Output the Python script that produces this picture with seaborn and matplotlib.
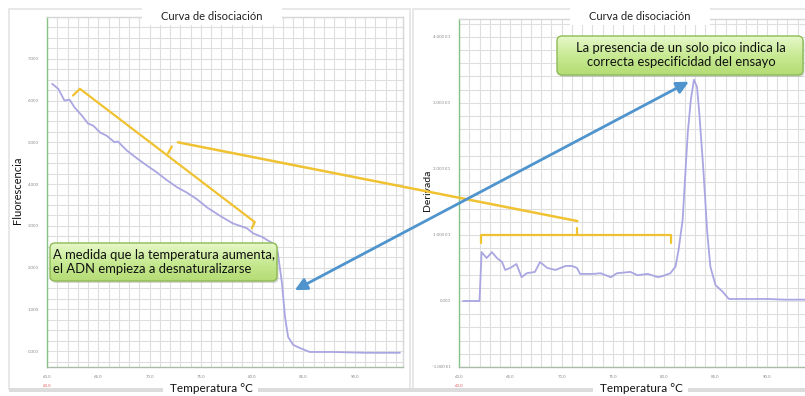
import numpy as np
import pandas as pd
import matplotlib
matplotlib.use("Agg")
import matplotlib.pyplot as plt
import seaborn as sns
from matplotlib.patches import FancyBboxPatch, Rectangle, ConnectionPatch
from matplotlib.ticker import MultipleLocator
from matplotlib.lines import Line2D

# ---- melt curve: fluorescence vs temperature ----
melt_temp = [60.5, 61.1, 61.7, 62.2, 62.7, 63.4, 64.0, 64.5, 65.2, 65.8, 66.6, 66.9,
             67.8, 68.8, 69.7, 70.7, 71.7, 72.7, 73.6, 74.6, 75.6, 76.8, 78.1, 79.5,
             80.1, 81.0, 82.0, 82.5, 82.9, 83.2, 83.5, 84.0, 84.6, 85.6, 87.8, 91.2, 94.4]
melt_fluor = [6.40, 6.28, 6.00, 6.02, 5.83, 5.64, 5.45, 5.40, 5.23, 5.16, 5.00, 5.02,
              4.80, 4.61, 4.45, 4.28, 4.09, 3.92, 3.80, 3.64, 3.44, 3.25, 3.06, 2.94,
              2.82, 2.73, 2.58, 2.35, 1.63, 0.82, 0.34, 0.15, 0.08, -0.02, -0.02, -0.04, -0.04]

# ---- derivative curve (E1 units) ----
deriv_temp = [60.4, 62.0, 62.2, 62.7, 63.2, 63.7, 64.2, 64.5, 65.0, 65.6, 66.1, 66.6,
              67.4, 67.9, 68.6, 69.4, 70.4, 71.0, 71.5, 71.8, 73.1, 73.8, 74.8, 75.4,
              76.7, 77.4, 78.4, 79.4, 79.9, 80.6, 81.1, 81.4, 81.8, 82.1, 82.3, 82.6,
              82.9, 83.2, 83.4, 83.8, 84.0, 84.2, 84.5, 85.0, 85.7, 86.3, 88.4, 90.1,
              91.7, 93.8]
deriv_value = [0.0, 0.0, 0.74, 0.65, 0.74, 0.65, 0.59, 0.47, 0.50, 0.56, 0.36, 0.42,
               0.44, 0.59, 0.50, 0.47, 0.53, 0.53, 0.50, 0.41, 0.41, 0.42, 0.36, 0.42,
               0.44, 0.39, 0.41, 0.36, 0.38, 0.42, 0.52, 0.77, 1.23, 2.03, 2.55, 3.05,
               3.35, 3.24, 2.89, 2.03, 1.53, 1.03, 0.52, 0.24, 0.14, 0.03, 0.03, 0.03,
               0.02, 0.02]

# ---- axis ticks ----
x_ticks = [60.0, 65.0, 70.0, 75.0, 80.0, 85.0, 90.0]
x_tick_labels = ["60.0", "65.0", "70.0", "75.0", "80.0", "85.0", "90.0"]
fluor_ticks = [0, 1, 2, 3, 4, 5, 6, 7]
fluor_tick_labels = ["0.000", "1.000", "2.000", "3.000", "4.000", "5.000", "6.000", "7.000"]
deriv_ticks = [-1, 0, 1, 2, 3, 4]
deriv_tick_labels = ["-1.000 E1", "0.000", "1.000 E1", "2.000 E1", "3.000 E1", "4.000 E1"]

title_text = "Curva de disociación"
xlabel_text = "Temperatura °C"
left_note = "A medida que la temperatura aumenta,\nel ADN empieza a desnaturalizarse"
right_note = "La presencia de un solo pico indica la\ncorrecta especificidad del ensayo"

sns.set_theme(style="white")
plt.rcParams["font.family"] = ["Lato", "DejaVu Sans"]

W, H = 805, 396
fig = plt.figure(figsize=(W / 100, H / 100), dpi=100)
fig.patch.set_facecolor("white")


def rect(x0, y0, x1, y1):
    return [x0 / W, 1 - y1 / H, (x1 - x0) / W, (y1 - y0) / H]


# pixel-space overlay for frames, labels and callouts
ov = fig.add_axes([0, 0, 1, 1], zorder=5)
ov.set_xlim(0, W)
ov.set_ylim(H, 0)
ov.axis("off")
ov.patch.set_alpha(0)

# background panel frames
bg = fig.add_axes([0, 0, 1, 1], zorder=-1)
bg.set_xlim(0, W)
bg.set_ylim(H, 0)
bg.axis("off")
for (x0, x1) in [(9, 410), (413, 812)]:
    bg.add_patch(Rectangle((x0, 9), x1 - x0, 380, facecolor="white",
                           edgecolor="#e8e8e8", lw=1.4))
bg.add_patch(Rectangle((9, 388), 803, 4, facecolor="#dcdcdc", edgecolor="none"))

line_color = "#aaa6e2"
grid_color = "#dedede"

ax1 = fig.add_axes(rect(47, 17, 403, 367), zorder=1)
ax2 = fig.add_axes(rect(459, 19, 815, 367), zorder=1)

melt_df = pd.DataFrame({"temp": melt_temp, "fluor": melt_fluor})
deriv_df = pd.DataFrame({"temp": deriv_temp, "deriv": deriv_value})
sns.lineplot(data=melt_df, x="temp", y="fluor", ax=ax1, color=line_color, lw=1.3,
             sort=False, estimator=None)
sns.lineplot(data=deriv_df, x="temp", y="deriv", ax=ax2, color=line_color, lw=1.3,
             sort=False, estimator=None)

for ax, yticks, ylabels, ylim, yminor in [
        (ax1, fluor_ticks, fluor_tick_labels, (-0.38, 8.0), 0.25),
        (ax2, deriv_ticks, deriv_tick_labels, (-1.0, 4.27), 0.2)]:
    ax.set_xlim(60, 94.7)
    ax.set_ylim(*ylim)
    ax.set_xticks(x_ticks)
    ax.set_xticklabels(x_tick_labels)
    ax.set_yticks(yticks)
    ax.set_yticklabels(ylabels)
    ax.xaxis.set_minor_locator(MultipleLocator(1))
    ax.yaxis.set_minor_locator(MultipleLocator(yminor))
    ax.grid(True, which="both", color=grid_color, lw=0.8)
    ax.set_axisbelow(True)
    ax.tick_params(length=0, labelsize=3.2, colors="#8a8a8a", pad=6)
    ax.set_xlabel("")
    ax.set_ylabel("")
    ax.spines["left"].set_color("#86c286")
    ax.spines["bottom"].set_color("#a8bca8")
    ax.spines["top"].set_color("#d6d6d6")
    ax.spines["right"].set_color("#d6d6d6")
    for s in ax.spines.values():
        s.set_linewidth(1.0)
    # second (red) label line under the first temperature tick
    ax.text(60, -0.048, "60.0", transform=ax.get_xaxis_transform(), fontsize=3.2,
            color="#e06060", ha="center", va="top")

# titles and axis labels in white boxes
for cx, bx0, bx1 in [(212, 142, 282), (640, 570, 710)]:
    ov.add_patch(Rectangle((bx0, 0), bx1 - bx0, 25, facecolor="white", edgecolor="none"))
    ov.text(cx, 17, title_text, ha="center", va="center", fontsize=8, color="#222222")
for cx, bx0, bx1 in [(211, 163, 258), (641, 593, 688)]:
    ov.add_patch(Rectangle((bx0, 380), bx1 - bx0, 16, facecolor="white", edgecolor="none"))
    ov.text(cx, 388, xlabel_text, ha="center", va="center", fontsize=8.5, color="#111111")
ov.text(17, 190, "Fluorescencia", rotation=90, ha="center", va="center", fontsize=8,
        color="#111111")
ov.text(427, 190, "Derivada", rotation=90, ha="center", va="center", fontsize=7.5,
        color="#111111")

yellow = "#f0c232"

# bracket along the falling fluorescence curve
ax1.add_line(Line2D([62.53, 63.21, 80.25, 79.96], [6.12, 6.28, 3.09, 2.94],
                    color=yellow, lw=1.6, clip_on=False, zorder=4))
ax1.add_line(Line2D([71.78, 72.17], [4.73, 4.90], color=yellow, lw=1.6,
                    clip_on=False, zorder=4))
# bracket over the derivative baseline
ax2.add_line(Line2D([62.15, 62.15, 80.63, 80.63], [0.88, 1.0, 1.0, 0.88],
                    color=yellow, lw=1.6, clip_on=False, zorder=4))
ax2.add_line(Line2D([71.53, 71.53], [1.0, 1.106], color=yellow, lw=1.6,
                    clip_on=False, zorder=4))

# connector between the two brackets
con_y = ConnectionPatch(xyA=(72.76, 5.0), coordsA=ax1.transData,
                        xyB=(71.53, 1.21), coordsB=ax2.transData,
                        color=yellow, lw=1.8, zorder=6)
fig.add_artist(con_y)

# double-headed arrow linking the drop and the peak
con_b = ConnectionPatch(xyA=(84.15, 1.46), coordsA=ax1.transData,
                        xyB=(82.4, 3.32), coordsB=ax2.transData,
                        arrowstyle="<|-|>,head_length=0.6,head_width=0.3",
                        color="#4f94cd", lw=2.0, zorder=7,
                        shrinkA=0, shrinkB=0, mutation_scale=12)
fig.add_artist(con_b)

# green callouts with a vertical gradient
grad = np.linspace(0, 1, 64)[:, None]
green_cmap = matplotlib.colors.LinearSegmentedColormap.from_list(
    "callout", ["#e6f8c8", "#c8ea94", "#b4dc74"])


def callout(x0, y0, x1, y1, text, tx, ty, ha):
    shadow = FancyBboxPatch((x0 + 1.5, y0 + 2), x1 - x0, y1 - y0,
                            boxstyle="round,pad=0,rounding_size=5",
                            facecolor="#b0b0b0", edgecolor="none", alpha=0.5)
    ov.add_patch(shadow)
    box = FancyBboxPatch((x0, y0), x1 - x0, y1 - y0,
                         boxstyle="round,pad=0,rounding_size=5",
                         facecolor="none", edgecolor="#8dbb55", lw=1.0, zorder=3)
    ov.add_patch(box)
    im = ov.imshow(grad, cmap=green_cmap, extent=(x0, x1, y1, y0), aspect="auto",
                   zorder=2, interpolation="bilinear")
    im.set_clip_path(box)
    ov.text(tx, ty, text, ha=ha, va="center", fontsize=9.4, color="#111111",
            linespacing=1.2, zorder=4, multialignment=ha)


callout(50, 243, 277, 281, left_note, 53, 262, "left")
callout(557, 36, 803, 75, right_note, 681, 55.5, "center")
ov.set_xlim(0, W)
ov.set_ylim(H, 0)

fig.savefig("out.png", dpi=100)
